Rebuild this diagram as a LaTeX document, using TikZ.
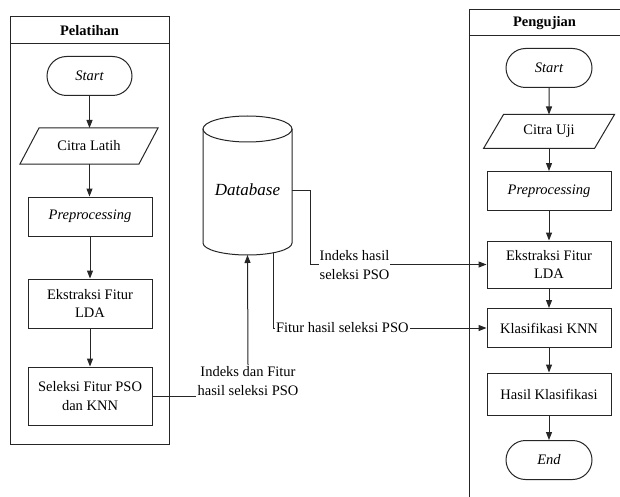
\documentclass[tikz,border=0pt]{standalone}
\usepackage{fontspec}
\setmainfont{Liberation Serif}
\usetikzlibrary{arrows.meta,shapes.misc,calc}
\newcommand\fsz{\fontsize{14.5}{18.5}\selectfont}
\begin{document}
\begin{tikzpicture}[x=1pt,y=-1pt,
  every path/.style={line width=1pt},
  ln/.style={draw=black!85},
  box/.style={draw=black!85, rectangle, minimum width=124pt, minimum height=39pt, align=center, font=\fsz, inner sep=1pt},
  term/.style={draw=black!85, rounded rectangle, minimum width=88pt, minimum height=39pt, font=\fsz\itshape, inner sep=1pt},
  iobox/.style={rectangle, minimum width=118pt, minimum height=35pt, font=\fsz, inner sep=1pt},
  arr/.style={draw=black!85, -{Triangle[length=8pt,width=6pt]}},
  lab/.style={align=center, font=\fsz, fill=white, inner sep=1pt},
  title/.style={font=\fsz\bfseries}]
\useasboundingbox (0,0) rectangle (620,497);
\fill[white] (0,0) rectangle (620,497);

% lanes
\draw[ln] (10,17) rectangle (169,444);
\draw[ln] (10,44) -- (169,44);
\node[title] (tl) at (89.5,30.5) {Pelatihan};
\draw[ln] (469,497) -- (469,10) -- (620,10);
\draw[ln] (469,36) -- (620,36);
\node[title] (tr) at (544.5,23) {Pengujian};

% left column
\node[term, minimum width=87pt] (startL) at (89.5,76) {Start};
\node[iobox] (citraL) at (89,146) {Citra Latih};
\draw[ln] ($(citraL.south west)+(-9.5,0)$) -- ($(citraL.south east)+(-9.5,0)$) -- ($(citraL.north east)+(9.5,0)$) -- ($(citraL.north west)+(9.5,0)$) -- cycle;
\node[box] (prepL) at (90,216.5) {\itshape Preprocessing};
\node[box, minimum height=49pt] (eksL) at (90,303.5) {Ekstraksi Fitur\\LDA};
\node[box, minimum height=58pt] (selL) at (90,396) {Seleksi Fitur PSO\\dan KNN};

\draw[arr] (startL.south) -- (startL.south |- citraL.north);
\draw[arr] (startL.south |- citraL.south) -- (startL.south |- prepL.north);
\draw[arr] (prepL) -- (eksL);
\draw[arr] (eksL) -- (selL);

% database
\node[font=\fontsize{17}{20}\selectfont\itshape] (db) at (247.5,190) {Database};
\draw[ln] (247.5,129) ellipse[x radius=44.5, y radius=13];
\draw[ln] (203,129) -- (203,243) arc[start angle=180, end angle=0, x radius=44.5, y radius=12] -- (292,129);
\coordinate (dbR) at (292,190);
\coordinate (dbB) at (247.5,255);
\coordinate (dbBR) at (273,252.8);

% right column
\node[term] (startR) at (549,68) {Start};
\node[iobox, minimum width=110pt, minimum height=33pt] (citraU) at (549,131.5) {Citra Uji};
\draw[ln] ($(citraU.south west)+(-10,0)$) -- ($(citraU.south east)+(-10,0)$) -- ($(citraU.north east)+(10,0)$) -- ($(citraU.north west)+(10,0)$) -- cycle;
\node[box] (prepR) at (549,191) {\itshape Preprocessing};
\node[box, minimum height=47pt] (eksR) at (549,264.5) {Ekstraksi Fitur\\LDA};
\node[box] (klaR) at (549,328) {Klasifikasi KNN};
\node[box, minimum height=42pt] (hasR) at (549,394) {Hasil Klasifikasi};
\node[term] (endR) at (549,460) {End};

\draw[arr] (startR) -- (citraU);
\draw[arr] (citraU) -- (prepR);
\draw[arr] (prepR) -- (eksR);
\draw[arr] (eksR) -- (klaR);
\draw[arr] (klaR) -- (hasR);
\draw[arr] (hasR) -- (endR);

% connectors with labels
\node[lab, fill=none] (l1) at (248,381) {Indeks dan Fitur\\hasil seleksi PSO};
\draw[ln] (selL.east) -- (selL.east -| l1.west);
\draw[arr] (l1.north) -- (dbB);

\draw[arr] (dbR) -- ++(18,0) |- (eksR.west);
\node[lab] (l2) at (354.5,265) {Indeks hasil\\seleksi PSO};

\draw[arr] (dbBR) |- (klaR.west);
\node[lab, anchor=west] (l3) at (274.5,327.5) {Fitur hasil seleksi PSO};
\end{tikzpicture}
\end{document}
